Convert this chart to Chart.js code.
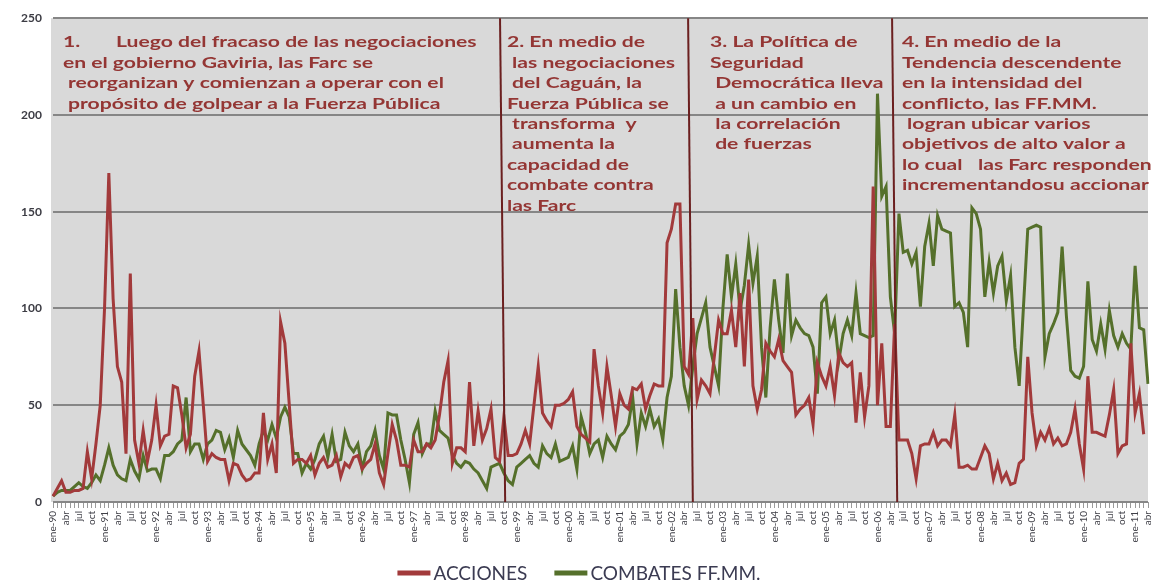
<!DOCTYPE html>
<html>
<head>
<meta charset="utf-8">
<script src="https://cdn.jsdelivr.net/npm/chart.js@4.4.1/dist/chart.umd.min.js"></script>
<style>
  html, body { margin: 0; padding: 0; background: #ffffff; }
  #wrap { width: 1157px; height: 584px; position: relative; }
</style>
</head>
<body>
<div id="wrap"><canvas id="grafico"></canvas></div>
<script>
// meses (ene-90 a abr-11)
const mesesNombre = ['ene', 'feb', 'mar', 'abr', 'may', 'jun', 'jul', 'ago', 'sep', 'oct', 'nov', 'dic'];
const anioInicio = 1990;
const totalMeses = 256;

const meses = [];
for (let i = 0; i < totalMeses; i++) {
    const m = i % 12;
    const yy = String((anioInicio + Math.floor(i / 12)) % 100).padStart(2, '0');
    meses.push(m === 0 ? 'ene-' + yy : mesesNombre[m]);
}

// una fila por año
const acciones = [
    3, 7, 11, 5, 5, 6, 6, 7, 26, 12, 30, 50,
    100, 170, 105, 70, 62, 25, 118, 32, 20, 37, 21, 32,
    50, 29, 34, 35, 60, 59, 45, 28, 35, 65, 78, 50,
    21, 25, 23, 22, 22, 11, 20, 19, 14, 11, 12, 15,
    15, 46, 22, 30, 15, 93, 82, 51, 20, 22, 22, 20,
    24, 14, 20, 23, 18, 19, 24, 13, 20, 18, 23, 24,
    17, 20, 22, 30, 15, 9, 25, 40, 32, 19, 19, 18,
    32, 26, 26, 30, 28, 32, 45, 62, 73, 20, 28, 28,
    26, 62, 29, 47, 32, 38, 48, 23, 21, 44, 24, 24,
    25, 30, 37, 30, 50, 70, 46, 42, 39, 50, 50, 51,
    53, 57, 39, 35, 33, 31, 79, 60, 46, 70, 55, 39,
    56, 50, 48, 59, 58, 61, 48, 55, 61, 60, 60, 134,
    141, 154, 154, 70, 66, 95, 53, 63, 60, 56, 75, 94,
    87, 87, 99, 80, 108, 70, 115, 60, 48, 58, 82, 78,
    75, 84, 73, 70, 67, 45, 48, 50, 54, 40, 72, 65,
    60, 70, 55, 77, 72, 70, 72, 41, 67, 44, 60, 163,
    50, 82, 39, 39, 92, 32, 32, 32, 25, 12, 29, 30,
    30, 36, 29, 32, 32, 29, 45, 18, 18, 19, 17, 17,
    23, 29, 25, 12, 20, 11, 15, 9, 10, 20, 22, 75,
    46, 29, 36, 32, 38, 30, 33, 29, 30, 36, 48, 30,
    17, 65, 36, 36, 35, 34, 45, 58, 25, 29, 30, 82,
    46, 56, 35
];

const combates = [
    3, 5, 6, 6, 6, 8, 10, 8, 7, 10, 14, 11,
    19, 28, 19, 14, 12, 11, 22, 16, 12, 24, 16, 17,
    17, 12, 24, 24, 26, 30, 32, 54, 26, 30, 30, 22,
    30, 32, 37, 36, 27, 33, 23, 37, 30, 27, 24, 19,
    30, 37, 32, 40, 33, 44, 49, 44, 25, 25, 15, 20,
    17, 22, 30, 34, 23, 35, 21, 22, 36, 29, 26, 30,
    17, 26, 29, 37, 24, 17, 46, 45, 45, 32, 22, 10,
    35, 41, 25, 30, 30, 47, 37, 35, 33, 24, 20, 18,
    21, 20, 17, 15, 11, 7, 18, 19, 20, 15, 11, 9,
    18, 20, 22, 24, 20, 18, 29, 25, 23, 30, 21, 22,
    23, 29, 17, 44, 36, 25, 30, 32, 23, 34, 30, 27,
    34, 36, 40, 54, 30, 46, 39, 48, 39, 43, 32, 54,
    65, 110, 80, 60, 50, 70, 87, 95, 103, 80, 70, 60,
    100, 128, 106, 123, 99, 112, 133, 113, 127, 80, 54, 90,
    115, 94, 77, 118, 86, 94, 90, 87, 86, 80, 56, 103,
    106, 87, 94, 73, 87, 94, 86, 108, 87, 86, 85, 86,
    211, 158, 163, 106, 87, 149, 129, 130, 123, 129, 101, 132,
    144, 122, 148, 141, 140, 139, 101, 103, 98, 80, 152, 149,
    141, 106, 124, 108, 122, 127, 104, 117, 80, 60, 101, 141,
    142, 143, 142, 75, 87, 92, 98, 132, 96, 68, 65, 64,
    70, 114, 84, 78, 92, 79, 99, 86, 80, 87, 82, 79,
    122, 90, 89, 61
];

const ejeY = [0, 50, 100, 150, 200, 250];

// cortes entre periodos (indice del mes arriba / abajo, la raya va algo inclinada)
const cortes = [
    { arriba: 104.1, abajo: 105.3 },
    { arriba: 147.9, abajo: 149.0 },
    { arriba: 195.4, abajo: 196.6 }
];

const textos = [
    { desde: 2.3, lineas: [
        '1.       Luego del fracaso de las negociaciones',
        'en el gobierno Gaviria, las Farc se',
        ' reorganizan y comienzan a operar con el',
        ' propósito de golpear a la Fuerza Pública'
    ] },
    { desde: 105.7, lineas: [
        '2. En medio de',
        ' las negociaciones',
        ' del Caguán, la',
        'Fuerza Pública se',
        ' transforma  y',
        ' aumenta la',
        'capacidad de',
        'combate contra',
        'las Farc'
    ] },
    { desde: 153.0, lineas: [
        '3. La Política de',
        'Seguridad',
        ' Democrática lleva',
        ' a un cambio en',
        ' la correlación',
        ' de fuerzas'
    ] },
    { desde: 197.7, lineas: [
        '4. En medio de la',
        'Tendencia descendente',
        'en la intensidad del',
        'conflicto, las FF.MM.',
        ' logran ubicar varios',
        'objetivos de alto valor a',
        'lo cual   las Farc responden',
        'incrementandosu accionar'
    ] }
];

const fondoGris = {
    id: 'fondoGris',
    beforeDraw(chart) {
        const { ctx, chartArea: a } = chart;
        ctx.save();
        ctx.fillStyle = '#d9d9d9';
        ctx.fillRect(a.left - 2, a.top, a.right - a.left + 2, a.bottom - a.top);
        ctx.restore();
    }
};

const periodos = {
    id: 'periodos',
    afterDatasetsDraw(chart) {
        const { ctx, chartArea: a } = chart;
        const x = chart.scales.x;
        ctx.save();
        ctx.strokeStyle = '#6b1f1f';
        ctx.lineWidth = 2;
        cortes.forEach(c => {
            ctx.beginPath();
            ctx.moveTo(x.getPixelForValue(c.arriba), a.top);
            ctx.lineTo(x.getPixelForValue(c.abajo), a.bottom);
            ctx.stroke();
        });
        ctx.fillStyle = '#943634';
        ctx.font = 'bold 16px Lato';
        ctx.textBaseline = 'middle';
        textos.forEach(t => {
            const px = x.getPixelForValue(t.desde);
            t.lineas.forEach((l, i) => {
                ctx.save();
                ctx.translate(px, a.top + 24 + i * 20.4);
                ctx.scale(1.32, 1);
                ctx.fillText(l, 0, 0);
                ctx.restore();
            });
        });
        ctx.restore();
    }
};

// leyenda abajo, raya larga pegada al texto
const leyenda = {
    id: 'leyenda',
    afterDraw(chart) {
        const ctx = chart.ctx;
        const sets = chart.data.datasets;
        const y = 573;
        ctx.save();
        ctx.font = '19px Lato';
        ctx.textBaseline = 'middle';
        const raya = 33, sep = 3, entre = 27;
        const anchos = sets.map(d => raya + sep + ctx.measureText(d.label).width);
        const total = anchos.reduce((s, w) => s + w, 0) + entre * (sets.length - 1);
        let x0 = 579 - total / 2;
        sets.forEach((d, i) => {
            ctx.strokeStyle = d.borderColor;
            ctx.lineWidth = 5;
            ctx.beginPath();
            ctx.moveTo(x0, y);
            ctx.lineTo(x0 + raya, y);
            ctx.stroke();
            ctx.fillStyle = '#3b3b52';
            ctx.fillText(d.label, x0 + raya + sep, y + 1);
            x0 += anchos[i] + entre;
        });
        ctx.restore();
    }
};

const ctx = document.getElementById('grafico').getContext('2d');

const grafico = new Chart(ctx, {
    type: 'line',
    data: {
        labels: meses,
        datasets: [{
            label: 'ACCIONES',
            data: acciones,
            borderColor: '#a23a3b',
            backgroundColor: '#a23a3b',
            borderWidth: 3,
            pointRadius: 0,
            tension: 0
        }, {
            label: 'COMBATES FF.MM.',
            data: combates,
            borderColor: '#55702b',
            backgroundColor: '#55702b',
            borderWidth: 3,
            pointRadius: 0,
            tension: 0
        }]
    },
    options: {
        responsive: true,
        maintainAspectRatio: false,
        animation: false,
        layout: { padding: { top: 18, right: 9, left: 0, bottom: 0 } },
        plugins: {
            tooltip: { enabled: false },
            legend: { display: false }
        },
        scales: {
            x: {
                grid: { drawOnChartArea: false, drawTicks: true, tickLength: 6, color: '#9a9a9a' },
                border: { display: false },
                ticks: {
                    autoSkip: false,
                    maxRotation: 90,
                    minRotation: 90,
                    padding: 3,
                    color: '#404048',
                    font: { family: 'Lato', size: 10 },
                    callback(value, index) {
                        return index % 3 === 0 ? this.getLabelForValue(value) : '';
                    }
                },
                afterFit(scale) {
                    scale.height = 82;
                    scale.paddingLeft = 0;
                    scale.paddingRight = 0;
                }
            },
            y: {
                min: ejeY[0],
                max: ejeY[ejeY.length - 1],
                afterBuildTicks(scale) { scale.ticks = ejeY.map(v => ({ value: v })); },
                grid: { color: '#868686', lineWidth: 2, drawTicks: false },
                border: { display: false },
                ticks: {
                    padding: 11,
                    color: '#3c3c44',
                    font: { family: 'Lato', size: 12, weight: 'bold' }
                },
                afterFit(scale) { scale.width = 53; }
            }
        }
    },
    plugins: [fondoGris, periodos, leyenda]
});
</script>
</body>
</html>
